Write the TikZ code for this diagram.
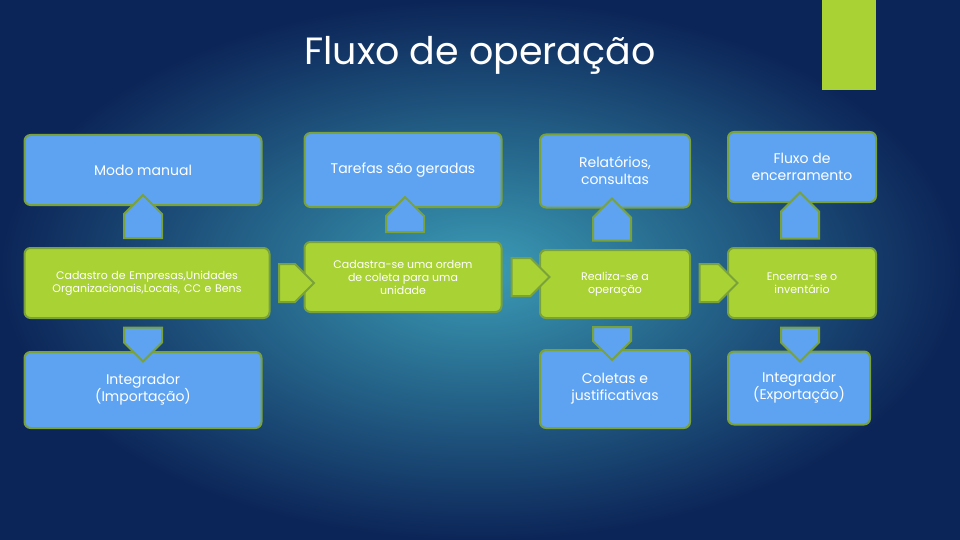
\documentclass[tikz,border=0pt]{standalone}
\usepackage{fontspec}
\setmainfont{Poppins}
\usetikzlibrary{shapes.arrows,calc}
\definecolor{boxblue}{HTML}{5EA3F2}
\definecolor{boxgreen}{HTML}{A9D234}
\definecolor{edgegreen}{HTML}{7AA23A}
\definecolor{bgin}{HTML}{3B9CB6}
\definecolor{bgout}{HTML}{0C2558}
\tikzset{
    bluebox/.style={draw=edgegreen,line width=2pt,fill=boxblue,rounded corners=6pt,
        align=center,text=white,font=\fontsize{14}{17}\selectfont,inner sep=2pt},
    greenbox/.style={draw=edgegreen,line width=2pt,fill=boxgreen,rounded corners=6pt,
        align=center,text=white,font=\fontsize{11}{13}\selectfont,inner sep=2pt},
    vertarrow/.style={single arrow,draw=edgegreen,line width=2pt,fill=boxblue,
        minimum width=38pt,single arrow head extend=0pt,inner sep=6pt,
        shape border rotate=#1},
    horarrow/.style={single arrow,draw=edgegreen,line width=2pt,fill=boxgreen,
        minimum width=38pt,single arrow head extend=0pt,inner sep=6pt}
}
\begin{document}
\begin{tikzpicture}[x=1pt,y=-1pt]
    % background
    \shade[inner color=bgin,outer color=bgout] (0,0) rectangle (960,540);
    \useasboundingbox (0,0) rectangle (960,540);
    \fill[boxgreen] (822,0) rectangle (876,90);
    \node[text=white,font=\fontsize{38}{40}\selectfont] (title) at (480,55) {Fluxo de operação};
    % column 1
    \node[bluebox,minimum width=237pt,minimum height=70pt] (manual) at (143,170) {Modo manual};
    \node[greenbox,minimum width=245pt,minimum height=70pt,text width=236pt] (cadastro) at (147,283)
        {Cadastro de Empresas,Unidades Organizacionais,Locais, CC e Bens};
    \node[bluebox,minimum width=237pt,minimum height=76pt] (import) at (143,390) {Integrador\\(Importação)};
    % column 2
    \node[bluebox,minimum width=197pt,minimum height=74pt] (tarefas) at (403,170) {Tarefas são geradas};
    \node[greenbox,minimum width=197pt,minimum height=70pt] (ordem) at (403,277)
        {Cadastra-se uma ordem\\de coleta para uma\\unidade};
    % column 3
    \node[bluebox,minimum width=150pt,minimum height=73pt] (relat) at (615,171) {Relatórios,\\consultas};
    \node[greenbox,minimum width=150pt,minimum height=68pt] (operacao) at (615,284) {Realiza-se a\\operação};
    \node[bluebox,minimum width=150pt,minimum height=78pt] (coletas) at (615,389) {Coletas e\\justificativas};
    % column 4
    \node[bluebox,minimum width=148pt,minimum height=70pt] (encerr) at (802,167) {Fluxo de\\encerramento};
    \node[greenbox,minimum width=148pt,minimum height=70pt] (invent) at (802,283) {Encerra-se o\\inventário};
    \node[bluebox,minimum width=142pt,minimum height=73pt] (export) at (799,388) {Integrador\\(Exportação)};
    % arrows
    \node[vertarrow=90,minimum height=43pt] (a1) at (143,226) {};
    \node[vertarrow=270,minimum height=34pt] (a2) at (143,335) {};
    \node[vertarrow=90,minimum height=35pt] (a3) at (405,224) {};
    \node[vertarrow=90,minimum height=42pt] (a4) at (612,229) {};
    \node[vertarrow=270,minimum height=32pt] (a5) at (612,334) {};
    \node[vertarrow=90,minimum height=46pt] (a6) at (800,225) {};
    \node[vertarrow=270,minimum height=34pt] (a7) at (800,335) {};
    \node[horarrow,minimum height=35pt] (h1) at (287,283) {};
    \node[horarrow,minimum height=38pt] (h2) at (521,277) {};
    \node[horarrow,minimum height=38pt] (h3) at (709,283) {};
\end{tikzpicture}
\end{document}
